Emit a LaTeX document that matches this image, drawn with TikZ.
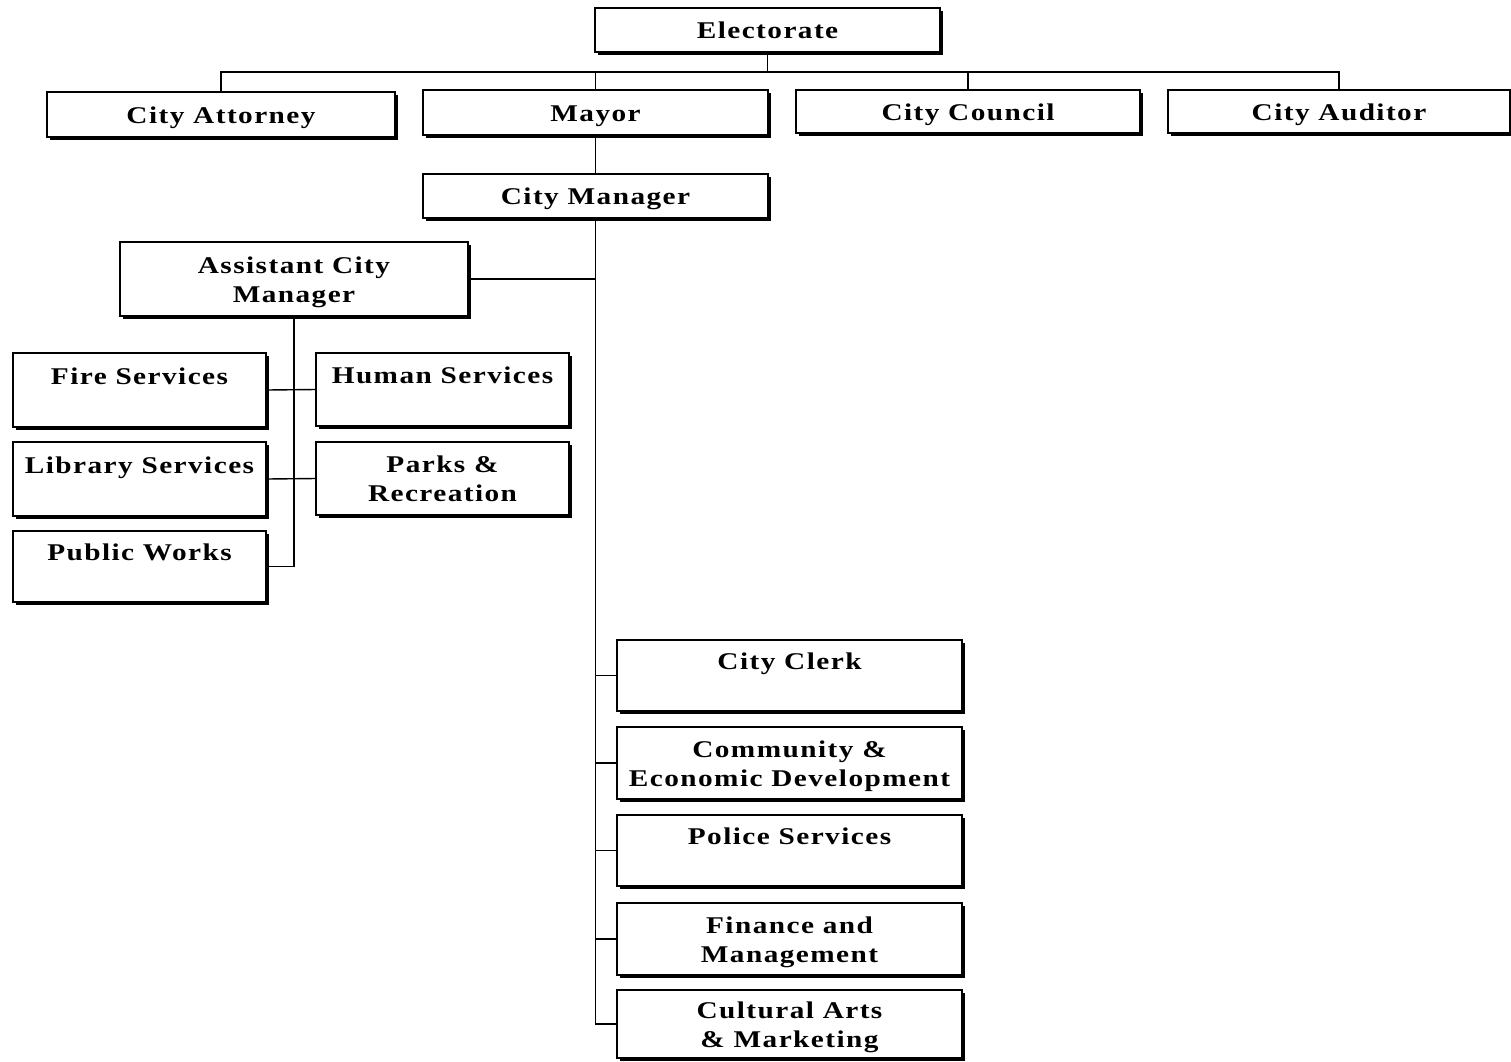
\documentclass[tikz,border=0pt]{standalone}
\usepackage{fontspec}
\setmainfont{Liberation Serif}[FakeStretch=1.22, LetterSpace=6]
\usetikzlibrary{shadows}
\newcommand\tstrut{\rule{0pt}{23pt}}
\newcommand\bstrut{\rule[-6pt]{0pt}{6pt}}
\begin{document}
\begin{tikzpicture}[x=1pt,y=-1pt,
  orgbox/.style={draw=black, line width=1.4pt, fill=white,
    drop shadow={shadow xshift=3pt, shadow yshift=-3pt, fill=black, opacity=1},
    inner sep=0pt, align=center,
    font=\fontsize{24}{29}\selectfont\bfseries},
  conn/.style={draw=black, line width=1.4pt}]
\useasboundingbox (0,0) rectangle (1511,1061);
\fill[white] (0,0) rectangle (1511,1061);

% top level
\node[orgbox, minimum width=345pt, minimum height=44pt] (elect) at (767.5,30) {\tstrut Electorate\bstrut};
\node[orgbox, minimum width=348pt, minimum height=45pt] (atty) at (221,114.5) {\tstrut City Attorney\bstrut};
\node[orgbox, minimum width=345pt, minimum height=45pt] (mayor) at (595.5,112.5) {\tstrut Mayor\bstrut};
\node[orgbox, minimum width=344pt, minimum height=43pt] (council) at (968,111.5) {\tstrut City Council\bstrut};
\node[orgbox, minimum width=342pt, minimum height=43pt] (auditor) at (1339,111.5) {\tstrut City Auditor\bstrut};
\node[orgbox, minimum width=345pt, minimum height=44pt] (mgr) at (595.5,196) {\tstrut City Manager\bstrut};

% assistant city manager group
\node[orgbox, minimum width=348pt, minimum height=74pt] (acm) at (294,279) {\tstrut Assistant City\\Manager\bstrut};
\node[orgbox, minimum width=253pt, minimum height=74pt] (fire) at (139.5,390) {\tstrut Fire Services\\\bstrut};
\node[orgbox, minimum width=253pt, minimum height=73pt] (human) at (442.5,389.5) {\tstrut Human Services\\\bstrut};
\node[orgbox, minimum width=253pt, minimum height=74pt] (lib) at (139.5,479) {\tstrut Library Services\\\bstrut};
\node[orgbox, minimum width=253pt, minimum height=73pt] (parks) at (442.5,478.5) {\tstrut Parks \&\\Recreation\bstrut};
\node[orgbox, minimum width=253pt, minimum height=71pt] (pub) at (139.5,566.5) {\tstrut Public Works\\\bstrut};

% departments under city manager
\node[orgbox, minimum width=345pt, minimum height=71pt] (clerk) at (789.5,675.5) {\tstrut City Clerk\\\bstrut};
\node[orgbox, minimum width=345pt, minimum height=72pt] (ced) at (789.5,763) {\tstrut Community \&\\Economic Development\bstrut};
\node[orgbox, minimum width=345pt, minimum height=71pt] (police) at (789.5,850.5) {\tstrut Police Services\\\bstrut};
\node[orgbox, minimum width=345pt, minimum height=72pt] (fin) at (789.5,939) {\tstrut Finance and\\Management\bstrut};
\node[orgbox, minimum width=345pt, minimum height=68pt] (cult) at (789.5,1024) {\tstrut Cultural Arts\\\& Marketing\bstrut};

% connectors
\coordinate (bus) at (0,72);
\draw[conn] (atty.north) -- (atty.north |- bus) -- (auditor.north |- bus) -- (auditor.north);
\draw[conn] (elect.south) -- (elect.south |- bus);
\draw[conn] (mayor.north) -- (mayor.north |- bus);
\draw[conn] (council.north) -- (council.north |- bus);
\draw[conn] (mayor.south) -- (mgr.north);
\draw[conn] (mgr.south) |- (cult.west);
\draw[conn] (acm.east) -- (acm.east -| mgr.south);
\draw[conn] (clerk.west) -- (clerk.west -| mgr.south);
\draw[conn] (ced.west) -- (ced.west -| mgr.south);
\draw[conn] (police.west) -- (police.west -| mgr.south);
\draw[conn] (fin.west) -- (fin.west -| mgr.south);
\draw[conn] (acm.south) |- (pub.east);
\draw[conn] (fire.east) -- (human.west);
\draw[conn] (lib.east) -- (parks.west);
\end{tikzpicture}
\end{document}
